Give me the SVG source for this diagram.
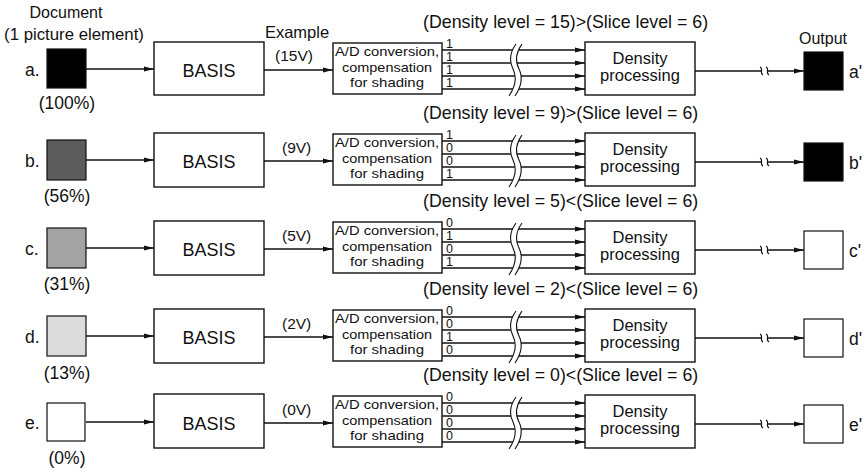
<svg xmlns="http://www.w3.org/2000/svg" width="868" height="473" viewBox="0 0 868 473">
<defs>
<style>
text{font-family:"Liberation Sans",Arial,sans-serif;fill:#111}
.box{fill:#fff;stroke:#111;stroke-width:1.4}
.sq{stroke:#111;stroke-width:1.2}
.ln{stroke:#111;stroke-width:1.3;fill:none}
.arr{marker-end:url(#ah)}
.brk{stroke:#111;stroke-width:1.1;fill:none}
.gap{fill:#fff;stroke:none}
.lbl{font-size:17.5px}
.pct{font-size:17.5px;text-anchor:middle}
.basis{font-size:18px;text-anchor:middle}
.ad{font-size:13.6px;text-anchor:middle}
.dp{font-size:16.5px;text-anchor:middle}
.hdr{font-size:17.8px}
.dg{font-size:12.5px}
.v{font-size:15.5px}
</style>
<marker id="ah" viewBox="0 0 10 6" refX="10" refY="3" markerWidth="10" markerHeight="6" markerUnits="userSpaceOnUse" orient="auto">
<path d="M0,0.6 L10,3 L0,5.4 z" fill="#111"/>
</marker>
<g id="lines4">
<line class="ln arr" x1="442" y1="-19" x2="585" y2="-19"/>
<line class="ln arr" x1="442" y1="-6" x2="585" y2="-6"/>
<line class="ln arr" x1="442" y1="7" x2="585" y2="7"/>
<line class="ln arr" x1="442" y1="20" x2="585" y2="20"/>
<path class="gap" d="M516,-25 C508,-14 510,-6 513,0 C516,6 517,15 509,27 L515,27 C523,15 522,6 519,0 C516,-6 514,-14 522,-25 Z"/>
<path class="brk" d="M516,-25 C508,-14 510,-6 513,0 C516,6 517,15 509,27"/>
<path class="brk" d="M522,-25 C514,-14 516,-6 519,0 C522,6 523,15 515,27"/>
</g>
<g id="adtext">
<text class="ad" x="387" y="-13" textLength="104" lengthAdjust="spacingAndGlyphs">A/D conversion,</text>
<text class="ad" x="387" y="2.5" textLength="90" lengthAdjust="spacingAndGlyphs">compensation</text>
<text class="ad" x="387" y="18" textLength="74" lengthAdjust="spacingAndGlyphs">for shading</text>
</g>
<g id="conn">
<line class="ln arr" x1="86" y1="0" x2="154" y2="0"/>
<line class="ln arr" x1="264" y1="1" x2="333" y2="1"/>
<line class="ln arr" x1="695" y1="2" x2="804" y2="2"/>
<rect class="gap" x="762" y="-3" width="6" height="10"/>
<path class="brk" d="M760,-2 C764,0 759,4 763,6"/>
<path class="brk" d="M766,-2 C770,0 765,4 769,6"/>
</g>
</defs>
<rect width="868" height="473" fill="#fff"/>

<g id="titles">
<text class="lbl" x="66" y="18" text-anchor="middle" style="font-size:16px">Document</text>
<text class="lbl" x="74" y="40" text-anchor="middle" style="font-size:16.8px">(1 picture element)</text>
<text class="lbl" x="297" y="38" text-anchor="middle" style="font-size:16.5px">Example</text>
<text class="lbl" x="823" y="44" text-anchor="middle" style="font-size:16px">Output</text>
</g>

<g id="connectors">
<use href="#conn" transform="translate(0,69)"/>
<use href="#lines4" transform="translate(0,69)"/>
<use href="#conn" transform="translate(0,160)"/>
<use href="#lines4" transform="translate(0,160)"/>
<use href="#conn" transform="translate(0,248)"/>
<use href="#lines4" transform="translate(0,248)"/>
<use href="#conn" transform="translate(0,336)"/>
<use href="#lines4" transform="translate(0,336)"/>
<use href="#conn" transform="translate(0,422)"/>
<use href="#lines4" transform="translate(0,422)"/>
</g>

<g id="row-a" transform="translate(0,69)">
<g id="a-doc"><text class="lbl" x="25" y="7">a.</text><rect class="sq" x="47" y="-20" width="39" height="39" fill="#000"/><text class="pct" x="67" y="40">(100%)</text></g>
<g id="a-basis"><rect class="box" x="154" y="-27" width="110" height="53"/><text class="basis" x="209" y="8">BASIS</text></g>
<text class="v" x="275" y="-8">(15V)</text>
<g id="a-ad"><rect class="box" x="333" y="-26" width="109" height="51"/><use href="#adtext"/></g>
<g id="a-bits"><text class="dg" x="446" y="-21">1</text><text class="dg" x="446" y="-8">1</text><text class="dg" x="446" y="5">1</text><text class="dg" x="446" y="18">1</text></g>
<text class="hdr" x="423" y="-41">(Density level = 15)&gt;(Slice level = 6)</text>
<g id="a-dens"><rect class="box" x="585" y="-27" width="110" height="53"/><text class="dp" x="640" y="-5">Density</text><text class="dp" x="640" y="12">processing</text></g>
<g id="a-out"><rect class="sq" x="804" y="-17" width="39" height="38" fill="#000"/><text class="lbl" x="849" y="9">a'</text></g>
</g>

<g id="row-b" transform="translate(0,160)">
<g id="b-doc"><text class="lbl" x="25" y="7">b.</text><rect class="sq" x="47" y="-20" width="39" height="40" fill="#5c5c5c"/><text class="pct" x="67" y="42">(56%)</text></g>
<g id="b-basis"><rect class="box" x="154" y="-27" width="110" height="54"/><text class="basis" x="209" y="8">BASIS</text></g>
<text class="v" x="282" y="-7">(9V)</text>
<g id="b-ad"><rect class="box" x="333" y="-26" width="109" height="51"/><use href="#adtext"/></g>
<g id="b-bits"><text class="dg" x="446" y="-21">1</text><text class="dg" x="446" y="-8">0</text><text class="dg" x="446" y="5">0</text><text class="dg" x="446" y="18">1</text></g>
<text class="hdr" x="423" y="-41">(Density level = 9)&gt;(Slice level = 6)</text>
<g id="b-dens"><rect class="box" x="585" y="-27" width="110" height="53"/><text class="dp" x="640" y="-5">Density</text><text class="dp" x="640" y="12">processing</text></g>
<g id="b-out"><rect class="sq" x="804" y="-17" width="39" height="38" fill="#000"/><text class="lbl" x="849" y="9">b'</text></g>
</g>

<g id="row-c" transform="translate(0,248)">
<g id="c-doc"><text class="lbl" x="25" y="7">c.</text><rect class="sq" x="47" y="-20" width="39" height="40" fill="#a3a3a3"/><text class="pct" x="67" y="42">(31%)</text></g>
<g id="c-basis"><rect class="box" x="154" y="-27" width="110" height="54"/><text class="basis" x="209" y="8">BASIS</text></g>
<text class="v" x="282" y="-7">(5V)</text>
<g id="c-ad"><rect class="box" x="333" y="-26" width="109" height="51"/><use href="#adtext"/></g>
<g id="c-bits"><text class="dg" x="446" y="-21">0</text><text class="dg" x="446" y="-8">1</text><text class="dg" x="446" y="5">0</text><text class="dg" x="446" y="18">1</text></g>
<text class="hdr" x="423" y="-41">(Density level = 5)&lt;(Slice level = 6)</text>
<g id="c-dens"><rect class="box" x="585" y="-27" width="110" height="53"/><text class="dp" x="640" y="-5">Density</text><text class="dp" x="640" y="12">processing</text></g>
<g id="c-out"><rect class="sq" x="804" y="-17" width="39" height="38" fill="#fff"/><text class="lbl" x="849" y="9">c'</text></g>
</g>

<g id="row-d" transform="translate(0,336)">
<g id="d-doc"><text class="lbl" x="25" y="7">d.</text><rect class="sq" x="47" y="-20" width="39" height="40" fill="#dcdcdc"/><text class="pct" x="67" y="43">(13%)</text></g>
<g id="d-basis"><rect class="box" x="154" y="-27" width="110" height="54"/><text class="basis" x="209" y="8">BASIS</text></g>
<text class="v" x="282" y="-7">(2V)</text>
<g id="d-ad"><rect class="box" x="333" y="-26" width="109" height="51"/><use href="#adtext"/></g>
<g id="d-bits"><text class="dg" x="446" y="-21">0</text><text class="dg" x="446" y="-8">0</text><text class="dg" x="446" y="5">1</text><text class="dg" x="446" y="18">0</text></g>
<text class="hdr" x="423" y="-41">(Density level = 2)&lt;(Slice level = 6)</text>
<g id="d-dens"><rect class="box" x="585" y="-27" width="110" height="53"/><text class="dp" x="640" y="-5">Density</text><text class="dp" x="640" y="12">processing</text></g>
<g id="d-out"><rect class="sq" x="804" y="-17" width="39" height="38" fill="#fff"/><text class="lbl" x="849" y="9">d'</text></g>
</g>

<g id="row-e" transform="translate(0,422)">
<g id="e-doc"><text class="lbl" x="25" y="7">e.</text><rect class="sq" x="47" y="-19" width="38" height="38" fill="#fff"/><text class="pct" x="67" y="42">(0%)</text></g>
<g id="e-basis"><rect class="box" x="154" y="-28" width="110" height="54"/><text class="basis" x="209" y="8">BASIS</text></g>
<text class="v" x="282" y="-7">(0V)</text>
<g id="e-ad"><rect class="box" x="333" y="-26" width="109" height="51"/><use href="#adtext"/></g>
<g id="e-bits"><text class="dg" x="446" y="-21">0</text><text class="dg" x="446" y="-8">0</text><text class="dg" x="446" y="5">0</text><text class="dg" x="446" y="18">0</text></g>
<text class="hdr" x="423" y="-41">(Density level = 0)&lt;(Slice level = 6)</text>
<g id="e-dens"><rect class="box" x="585" y="-27" width="110" height="53"/><text class="dp" x="640" y="-5">Density</text><text class="dp" x="640" y="12">processing</text></g>
<g id="e-out"><rect class="sq" x="804" y="-17" width="39" height="38" fill="#fff"/><text class="lbl" x="849" y="9">e'</text></g>
</g>
</svg>
